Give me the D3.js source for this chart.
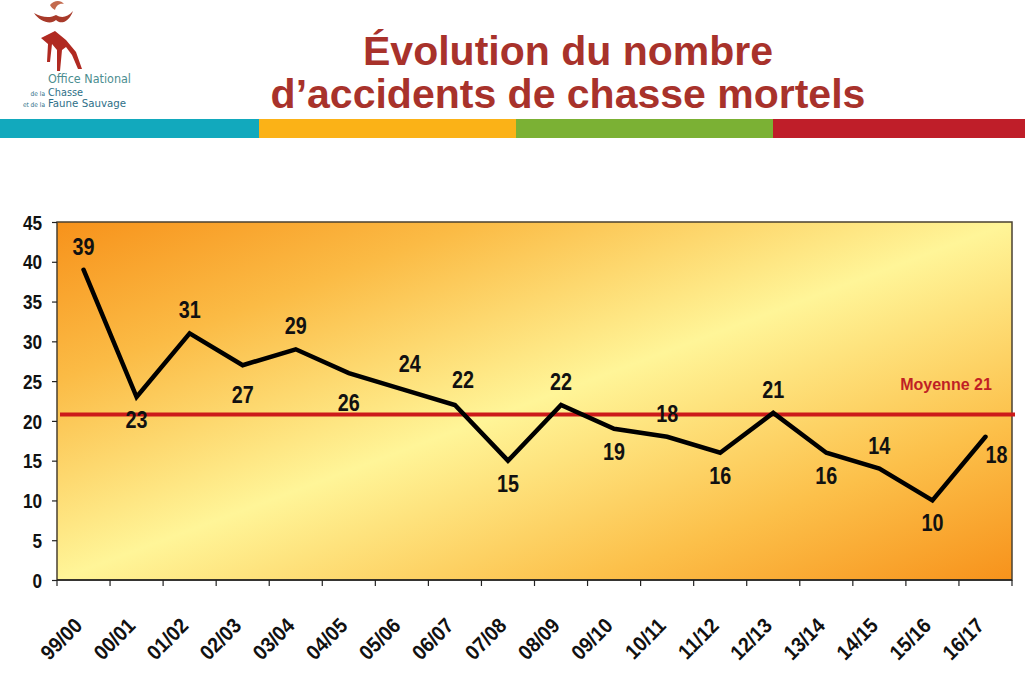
<!DOCTYPE html>
<html>
<head>
<meta charset="utf-8">
<script src="https://cdn.jsdelivr.net/npm/d3@7"></script>
<style>
  html, body { margin: 0; padding: 0; background: #ffffff; }
  svg { display: block; }
</style>
</head>
<body>
<svg id="chart" width="1025" height="686"></svg>
<script>
// ---- data ----
const categories = ['99/00','00/01','01/02','02/03','03/04','04/05','05/06','06/07','07/08','08/09','09/10','10/11','11/12','12/13','13/14','14/15','15/16','16/17'];
const values = [39, 23, 31, 27, 29, 26, 24, 22, 15, 22, 19, 18, 16, 21, 16, 14, 10, 18];
const labelSide = ['top','bottom','top','bottomFar','top','bottomFar','topRight','topRight','bottom','top','bottom','top','bottom','top','bottom','top','bottom','right'];
const yTicks = [0, 5, 10, 15, 20, 25, 30, 35, 40, 45];
const meanValue = 20.8;
const meanLabel = 'Moyenne 21';
const titleLines = ['Évolution du nombre', 'd\u2019accidents de chasse mortels'];
const logoLines = ['Office National', 'Chasse', 'Faune Sauvage'];
const logoSmall = ['de la', 'et de la'];
const bandColors = ['#12a9bd', '#fbb217', '#7bb134', '#bf1e29'];

// ---- layout ----
const svg = d3.select('#chart');
const pL = 57, pR = 1012, pT = 222, pB = 580;
const x = d3.scaleBand().domain(categories).range([pL, pR]).paddingInner(0).paddingOuter(0);
const y = d3.scaleLinear().domain([0, 45]).range([pB, pT]);
const sans = '"Liberation Sans", Arial, sans-serif';
const SX = 0.86; // horizontal squeeze to mimic a narrow bold face

// ---- header ----
const title = svg.append('g');
title.selectAll('text').data(titleLines).join('text')
  .attr('x', 568)
  .attr('y', (d, i) => i === 0 ? 65 : 108)
  .attr('text-anchor', 'middle')
  .attr('font-family', sans)
  .attr('font-weight', 'bold')
  .attr('font-size', 41)
  .attr('fill', '#a8322b')
  .text(d => d);

// colour band
const bandScale = d3.scaleBand().domain(d3.range(bandColors.length)).range([2, 1030]);
svg.append('g').selectAll('rect').data(bandColors).join('rect')
  .attr('x', (d, i) => i === 0 ? 0 : bandScale(i))
  .attr('y', 119)
  .attr('width', (d, i) => bandScale.bandwidth() + (i === 0 ? 2.5 : 0.5))
  .attr('height', 19)
  .attr('fill', d => d);

// logo
const logo = svg.append('g');
logo.append('path')
  .attr('d', 'M34,13 C40,22 51,25 56,20 C61,25 69,22 73,11 C67,18 61,18 56,15 C51,18 42,18 34,13 Z')
  .attr('fill', '#a83a2a');
logo.append('path')
  .attr('d', 'M50,5 C54,0 61,0 64,4 C59,3 56,6 55,10 C53,9 51,7 50,5 Z')
  .attr('fill', '#c36a4e');
logo.append('path')
  .attr('d', 'M41,38 L55,31 L66,40 L76,52 L82,69 L78,69 L72,55 L66,47 L62,50 L60,71 L57,71 L57,50 L52,44 L50,62 L47,62 L48,44 Z')
  .attr('fill', '#b02a22');
logo.selectAll('text.big').data(logoLines).join('text')
  .attr('class', 'big')
  .attr('x', 48)
  .attr('y', (d, i) => [83, 95.5, 107][i])
  .attr('font-family', '"DejaVu Sans Condensed", "DejaVu Sans", sans-serif')
  .attr('font-size', (d, i) => i === 0 ? 11.5 : 10.5)
  .attr('fill', (d, i) => i === 0 ? '#4c8e90' : '#2e6f88')
  .attr('textLength', (d, i) => [83, 35, 78][i])
  .attr('lengthAdjust', 'spacingAndGlyphs')
  .text(d => d);
logo.selectAll('text.small').data(logoSmall).join('text')
  .attr('class', 'small')
  .attr('x', 45)
  .attr('y', (d, i) => [95.5, 107][i])
  .attr('text-anchor', 'end')
  .attr('font-family', '"DejaVu Sans Condensed", sans-serif')
  .attr('font-size', 6.5)
  .attr('fill', '#2e6f88')
  .text(d => d);

// ---- plot background ----
const defs = svg.append('defs');
const grad = defs.append('linearGradient').attr('id', 'bg')
  .attr('x1', 0).attr('y1', 0).attr('x2', 1).attr('y2', 1);
[[0, '#f7921b'], [0.22, '#fbbb45'], [0.5, '#fff598'], [0.78, '#fcc04a'], [1, '#f7921b']]
  .forEach(([o, c]) => grad.append('stop').attr('offset', o).attr('stop-color', c));

svg.append('rect')
  .attr('x', pL).attr('y', pT)
  .attr('width', pR - pL).attr('height', pB - pT)
  .attr('fill', 'url(#bg)')
  .attr('stroke', '#4a4030')
  .attr('stroke-width', 1.5);

// ---- axes ----
const yAxis = svg.append('g')
  .attr('transform', `translate(${pL},0)`)
  .call(d3.axisLeft(y).tickValues(yTicks).tickSize(5).tickPadding(9));
yAxis.select('.domain').remove();
yAxis.selectAll('.tick line').attr('stroke', '#222').attr('stroke-width', 1.2);
yAxis.selectAll('.tick text')
  .attr('font-family', sans)
  .attr('font-weight', 'bold')
  .attr('font-size', 20)
  .attr('fill', '#111')
  .attr('x', -15 / SX)
  .attr('transform', `scale(${SX},1)`)
  .attr('dy', '0.36em');

const xg = svg.append('g');
const boundaries = categories.map(c => x(c)).concat([x.range()[1]]);
xg.selectAll('line').data(boundaries).join('line')
  .attr('x1', d => d).attr('x2', d => d)
  .attr('y1', pB).attr('y2', pB + 6)
  .attr('stroke', '#222').attr('stroke-width', 1.2);
xg.append('line')
  .attr('x1', pL).attr('x2', pR)
  .attr('y1', pB).attr('y2', pB)
  .attr('stroke', '#222').attr('stroke-width', 1.5);
xg.selectAll('text').data(categories).join('text')
  .attr('transform', d => `translate(${x(d) + x.bandwidth() / 2},627) rotate(-45) scale(0.92,1)`)
  .attr('text-anchor', 'end')
  .attr('font-family', sans)
  .attr('font-weight', 'bold')
  .attr('font-size', 21)
  .attr('fill', '#111')
  .text(d => d);

// ---- mean line ----
svg.append('line')
  .attr('x1', pL + 3).attr('x2', pR + 3)
  .attr('y1', y(meanValue)).attr('y2', y(meanValue))
  .attr('stroke', '#cc1a1a').attr('stroke-width', 4);
svg.append('text')
  .attr('x', 946).attr('y', y(meanValue) - 25)
  .attr('text-anchor', 'middle')
  .attr('font-family', sans)
  .attr('font-weight', 'bold')
  .attr('font-size', 16)
  .attr('fill', '#c01f25')
  .text(meanLabel);

// ---- series line ----
const pts = categories.map((c, i) => ({ c, v: values[i], side: labelSide[i] }));
const cx = d => x(d.c) + x.bandwidth() / 2;
const line = d3.line().x(cx).y(d => y(d.v));
svg.append('path')
  .datum(pts)
  .attr('d', line)
  .attr('fill', 'none')
  .attr('stroke', '#000')
  .attr('stroke-width', 4.5)
  .attr('stroke-linejoin', 'miter')
  .attr('stroke-linecap', 'round');

// ---- data labels ----
const dxFor = { top: 0, topRight: 8, bottom: 0, bottomFar: 0, right: 11 };
const dyFor = { top: -15, topRight: -17, bottom: 31, bottomFar: 38, right: 26 };
svg.append('g').selectAll('text').data(pts).join('text')
  .attr('transform', d => `translate(${cx(d) + dxFor[d.side]},${y(d.v) + dyFor[d.side]}) scale(${SX},1)`)
  .attr('text-anchor', 'middle')
  .attr('font-family', sans)
  .attr('font-weight', 'bold')
  .attr('font-size', 23)
  .attr('fill', '#111')
  .text(d => d.v);
</script>
</body>
</html>
